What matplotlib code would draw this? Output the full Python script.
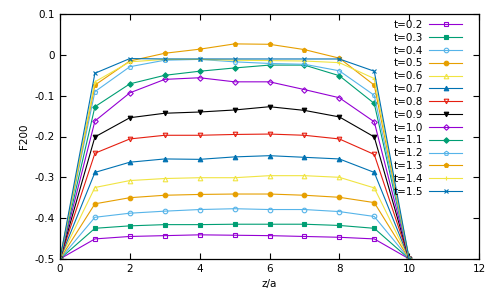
import numpy as np
import matplotlib
matplotlib.use('Agg')
import matplotlib.pyplot as plt

z = [0, 1, 2, 3, 4, 5, 6, 7, 8, 9, 10]
t_labels = ['t=0.2', 't=0.3', 't=0.4', 't=0.5', 't=0.6', 't=0.7', 't=0.8',
            't=0.9', 't=1.0', 't=1.1', 't=1.2', 't=1.3', 't=1.4', 't=1.5']

f_02 = [-0.5, -0.451, -0.445, -0.443, -0.441, -0.442, -0.443, -0.445, -0.447, -0.451, -0.5]
f_03 = [-0.5, -0.425, -0.419, -0.416, -0.416, -0.415, -0.415, -0.415, -0.418, -0.425, -0.5]
f_04 = [-0.5, -0.398, -0.388, -0.383, -0.379, -0.377, -0.379, -0.379, -0.384, -0.396, -0.5]
f_05 = [-0.5, -0.365, -0.350, -0.344, -0.342, -0.341, -0.341, -0.344, -0.349, -0.362, -0.5]
f_06 = [-0.5, -0.325, -0.308, -0.303, -0.301, -0.301, -0.296, -0.296, -0.300, -0.326, -0.5]
f_07 = [-0.5, -0.288, -0.263, -0.255, -0.256, -0.250, -0.247, -0.251, -0.255, -0.288, -0.5]
f_08 = [-0.5, -0.241, -0.206, -0.197, -0.197, -0.195, -0.194, -0.197, -0.206, -0.244, -0.5]
f_09 = [-0.5, -0.201, -0.154, -0.143, -0.140, -0.135, -0.127, -0.136, -0.152, -0.201, -0.5]
f_10 = [-0.5, -0.162, -0.093, -0.060, -0.056, -0.066, -0.066, -0.085, -0.105, -0.164, -0.5]
f_11 = [-0.5, -0.127, -0.071, -0.050, -0.040, -0.032, -0.025, -0.025, -0.051, -0.119, -0.5]
f_12 = [-0.5, -0.090, -0.029, -0.013, -0.011, -0.017, -0.021, -0.023, -0.039, -0.099, -0.5]
f_13 = [-0.5, -0.074, -0.015, 0.004, 0.014, 0.027, 0.026, 0.013, -0.008, -0.074, -0.5]
f_14 = [-0.5, -0.066, -0.017, -0.011, -0.011, -0.013, -0.014, -0.015, -0.019, -0.058, -0.5]
f_15 = [-0.5, -0.045, -0.009, -0.010, -0.010, -0.010, -0.010, -0.010, -0.010, -0.040, -0.5]

series = [f_02, f_03, f_04, f_05, f_06, f_07, f_08, f_09, f_10, f_11, f_12, f_13, f_14, f_15]

# gnuplot default colour / point cycle
colors = ['#9400d3', '#009e73', '#56b4e9', '#e69f00', '#f0e442', '#0072b2', '#e51e10', '#000000']
styles = [('s', False), ('s', True), ('o', False), ('o', True), ('^', False), ('^', True),
          ('v', False), ('v', True), ('D', False), ('D', True), ('p', False), ('p', True),
          ('+', True), ('x', True)]

fig = plt.figure(figsize=(5, 3), dpi=100)
ax = fig.add_axes([0.12, 0.137, 0.838, 0.816])

for i, (vals, lab) in enumerate(zip(series, t_labels)):
    c = colors[i % 8]
    m, filled = styles[i]
    ms = 2.8 if m == 'D' else 3.3
    ax.plot(z, vals, color=c, lw=0.8, marker=m, ms=ms,
            mfc=c if filled else 'none', mec=c, mew=0.8, label=lab)

ax.set_xlim(0, 12)
ax.set_ylim(-0.5, 0.1)
ax.set_xticks([0, 2, 4, 6, 8, 10, 12])
ax.set_yticks([-0.5, -0.4, -0.3, -0.2, -0.1, 0, 0.1])
ax.set_yticklabels(['-0.5', '-0.4', '-0.3', '-0.2', '-0.1', '0', '0.1'])
ax.tick_params(direction='in', top=True, right=True, labelsize=7.5, length=4, width=0.8)
ax.set_xlabel('z/a', fontsize=7.5)
ax.set_ylabel('F200', fontsize=7.5)
for s in ax.spines.values():
    s.set_linewidth(0.9)

ax.legend(loc='upper right', bbox_to_anchor=(0.973, 0.997), frameon=False,
          markerfirst=False, fontsize=7.5, labelspacing=0.27, handlelength=3.2,
          handletextpad=0.6, borderaxespad=0.3, borderpad=0.2)

fig.savefig('out.png', dpi=100)
